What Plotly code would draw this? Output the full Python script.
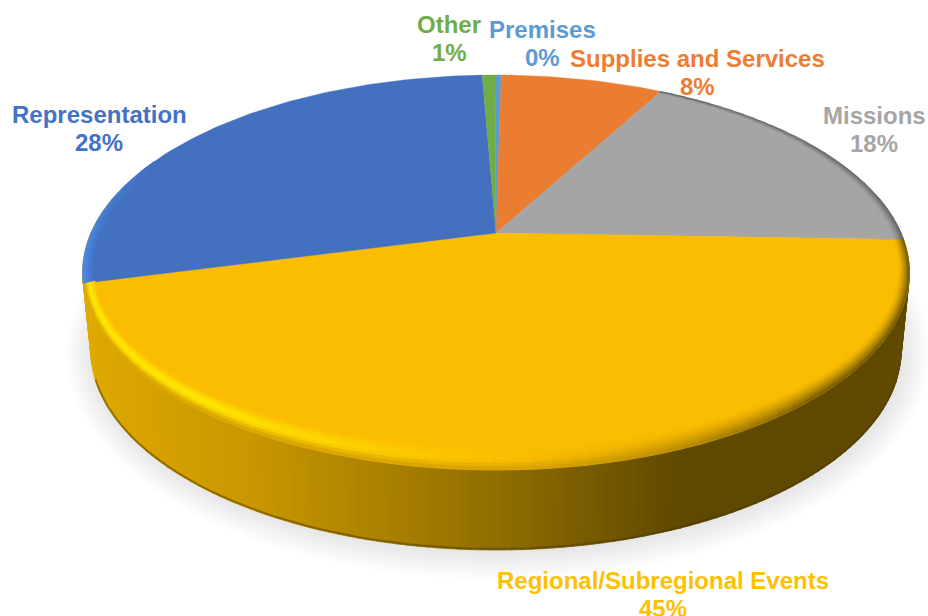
import numpy as np
import plotly.graph_objects as go

categories = ["Premises", "Supplies and Services", "Missions", "Regional/Subregional Events", "Representation", "Other"]
values = [0.3, 7.7, 17.6, 45.4, 28.4, 0.6]
top_colors = ["#5b9bd5", "#ea7d31", "#a5a5a5", "#fbbd00", "#4371c0", "#70ad47"]
label_colors = ["#5b9bd5", "#ed7d31", "#a5a5a5", "#ffc000", "#4472c4", "#70ad47"]
label_pos = [(542, 29), (697, 58), (874, 115), (663, 580), (99, 114), (449, 24)]

W, H = 928, 616
CX, CY, R, A, K = 496, 233, 405, 189.6, 0.2
BX, BY, BR, BA = 496, 310, 397, 192
START = -0.05


def rgb(h):
    return np.array([int(h[i:i + 2], 16) for i in (1, 3, 5)], float)


def css(c):
    c = np.clip(c, 0, 255).round().astype(int)
    return f"rgb({c[0]},{c[1]},{c[2]})"


def proj_top(u, v):
    d = 1 + K * v
    return CX + R * u / d, CY - A * v / d


def proj_bot(u, v, grow=0.0):
    d = 1 + K * v
    return BX + (BR + grow) * u / d, BY - (BA + grow) * v / d


def poly(x, y, color, lw=0.8):
    return go.Scatter(x=list(x), y=list(y), mode="lines", fill="toself", fillcolor=color,
                      line=dict(color=color, width=lw), hoverinfo="skip", showlegend=False)


fig = go.Figure()

# soft shadow
t = np.linspace(0, 2 * np.pi, 181)
for g in np.linspace(26, 2, 12):
    x, y = proj_bot(np.sin(t), np.cos(t), g)
    fig.add_trace(go.Scatter(x=x + 2, y=y + 1 - g * 0.15, mode="lines", fill="toself",
                             fillcolor="rgba(110,110,110,0.015)",
                             line=dict(width=0), hoverinfo="skip", showlegend=False))

# side wall with horizontal gradient
stops_x = [85, 250, 500, 680, 915]
stops_c = [rgb("#dfa900"), rgb("#c99700"), rgb("#8f6d00"), rgb("#5f4900"), rgb("#5f4900")]
ang = np.radians(np.linspace(78, 282, 170))
for i in range(len(ang) - 1):
    a0, a1 = ang[i], ang[i + 1] + 0.002
    tx0, ty0 = proj_top(np.sin(a0), np.cos(a0))
    tx1, ty1 = proj_top(np.sin(a1), np.cos(a1))
    bx0, by0 = proj_bot(np.sin(a0), np.cos(a0))
    bx1, by1 = proj_bot(np.sin(a1), np.cos(a1))
    xm = (tx0 + tx1 + bx0 + bx1) / 4
    c = np.array([np.interp(xm, stops_x, [s[j] for s in stops_c]) for j in range(3)])
    fig.add_trace(poly([tx0, tx1, bx1, bx0, tx0], [ty0, ty1, by1, by0, ty0], css(c)))

# bottom edge darker line
a = np.radians(np.linspace(110, 250, 90))
x, y = proj_bot(np.sin(a), np.cos(a))
fig.add_trace(go.Scatter(x=x, y=y - 1, mode="lines", line=dict(color="rgba(80,58,0,0.5)", width=2),
                         hoverinfo="skip", showlegend=False))

# top slices
edges = START + np.concatenate([[0], np.cumsum(values)])
edges_deg = edges * 3.6
for i, col in enumerate(top_colors):
    n = max(4, int(values[i] * 3))
    th = np.radians(np.linspace(edges_deg[i], edges_deg[i + 1], n))
    x, y = proj_top(np.sin(th), np.cos(th))
    fig.add_trace(poly(np.r_[CX, x, CX], np.r_[CY, y, CY], col, lw=0.4))

# bevelled rim
bright = {"#fbbd00": rgb("#ffe600"), "#4371c0": rgb("#4d8be8")}
dark = {"#fbbd00": rgb("#6e5400"), "#a5a5a5": rgb("#5f6468")}
EDGE_GOLD = rgb("#b98c00")
RINGS = 7
for i, col in enumerate(top_colors):
    if col not in bright and col not in dark:
        continue
    base = rgb(col)
    n = max(8, int(values[i] * 1.6))
    th_edges = np.linspace(edges_deg[i], edges_deg[i + 1], n + 1)
    for j in range(n):
        d0, d1 = th_edges[j], th_edges[j + 1]
        mid = (d0 + d1) / 2
        L = np.clip((mid - 178) / 40, 0, 1) if col in bright else 0.0
        D = np.clip((178 - mid) / 55, 0, 1) if col in dark else 0.0
        if col == "#fbbd00":
            D = np.clip((178 - mid) / 40, 0, 1)
        if col == "#4371c0":
            L = np.clip((295 - mid) / 30, 0, 1)
        if L == 0 and D == 0 and col != "#fbbd00":
            continue
        th = np.radians(np.linspace(d0, d1, 4))
        u, v = np.sin(th), np.cos(th)
        for r in range(RINGS):
            s0, s1 = r / RINGS, (r + 1) / RINGS
            tm = (s0 + s1) / 2
            c = base.copy()
            if L > 0:
                prof = np.sin(np.pi * tm) ** 1.2 if col == "#fbbd00" else tm
                c = c + L * prof * (bright[col] - base)
            if D > 0:
                c = c + D * tm ** 1.5 * (dark[col] - base)
            if col == "#fbbd00":
                c = c + max(0.0, (tm - 0.6) / 0.4) * 0.6 * (1 - D) * (EDGE_GOLD - c)
            ru0, ru1 = 0.975 + 0.025 * s0, 0.975 + 0.025 * s1
            rv0, rv1 = (0.955 + 0.035 * v) + (0.045 - 0.035 * v) * s0, (0.955 + 0.035 * v) + (0.045 - 0.035 * v) * s1
            xa, ya = proj_top(u * ru0, v * rv0)
            xb, yb = proj_top(u * ru1, v * rv1)
            fig.add_trace(poly(np.r_[xa, xb[::-1], xa[0]], np.r_[ya, yb[::-1], ya[0]], css(c), lw=0.6))

# labels
FONT = "Liberation Sans, Arial, sans-serif"
for cat, val, col, (lx, ly) in zip(categories, values, label_colors, label_pos):
    fig.add_annotation(x=lx, y=ly, text=f"<b>{cat}</b>", showarrow=False, xanchor="center", yanchor="middle",
                       font=dict(family=FONT, size=24, color=col))
    fig.add_annotation(x=lx, y=ly + 28, text=f"<b>{round(val)}%</b>", showarrow=False, xanchor="center",
                       yanchor="middle", font=dict(family=FONT, size=24, color=col))

fig.update_layout(
    width=W, height=H, margin=dict(l=0, r=0, t=0, b=0),
    paper_bgcolor="white", plot_bgcolor="white", showlegend=False,
    xaxis=dict(range=[0, W], visible=False, fixedrange=True),
    yaxis=dict(range=[H, 0], visible=False, fixedrange=True),
)
fig.write_html("out.html", config=dict(displayModeBar=False),
               post_script="document.body.style.margin='0';document.body.style.overflow='hidden';")
